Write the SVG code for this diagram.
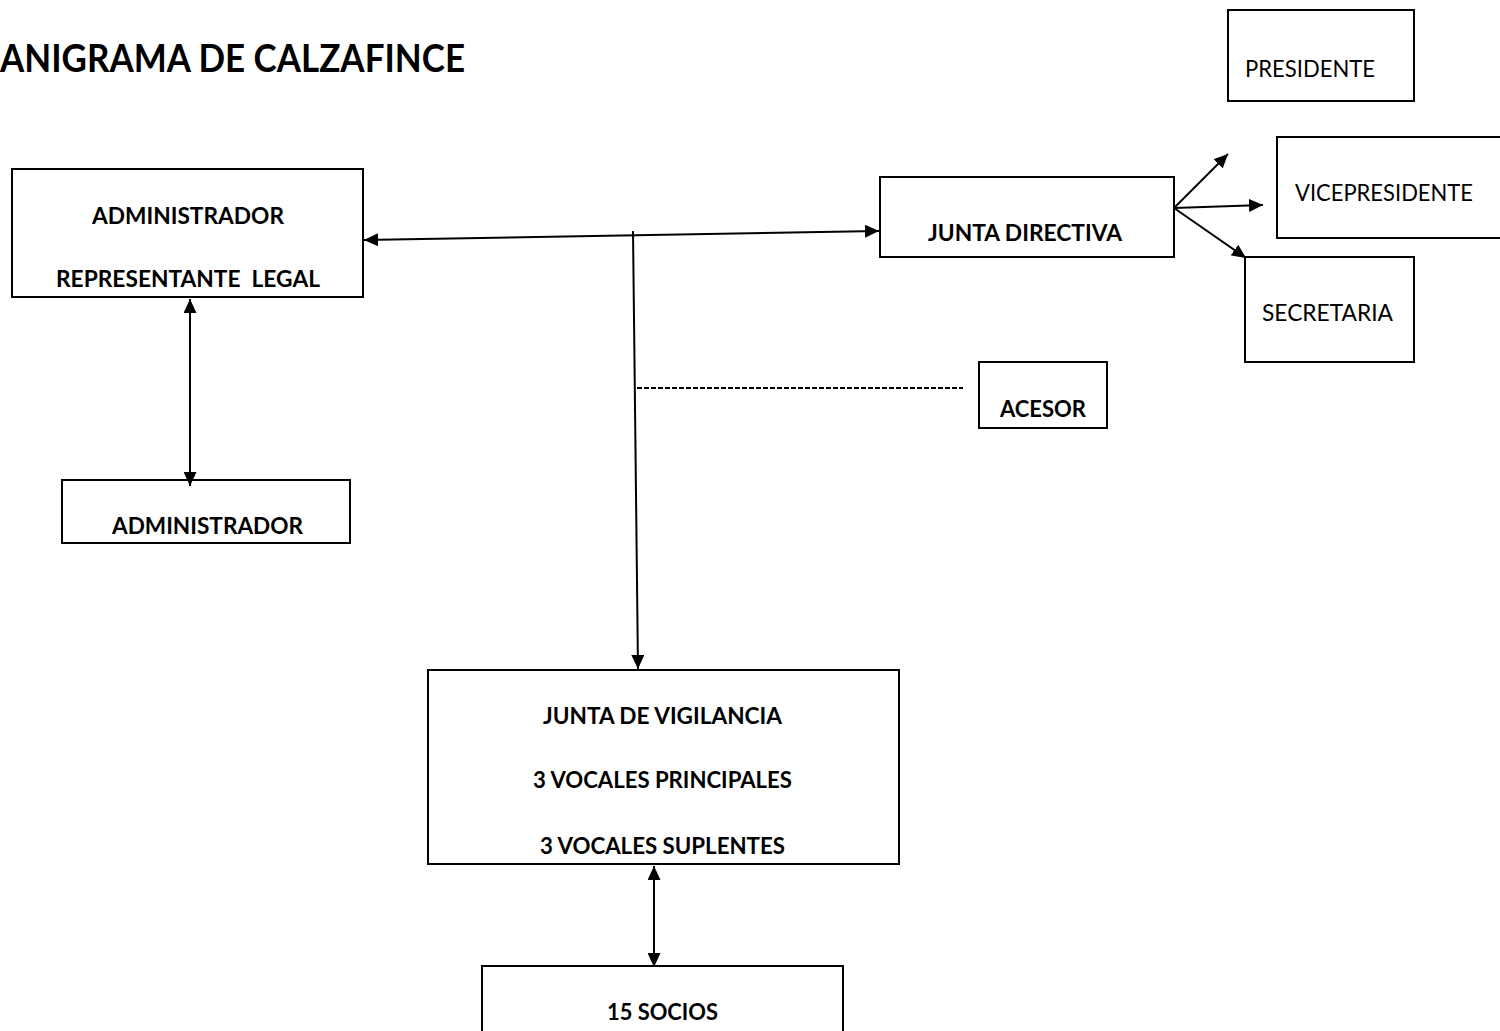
<svg xmlns="http://www.w3.org/2000/svg" width="1500" height="1031" viewBox="0 0 1500 1031">
<defs>
<marker id="ah" viewBox="0 0 12 12" refX="12" refY="6" markerWidth="14" markerHeight="13" markerUnits="userSpaceOnUse" orient="auto-start-reverse" preserveAspectRatio="none"><path d="M0,0 L12,6 L0,12 z" fill="#000"/></marker>
<style>
.box{fill:#fff;stroke:#000;stroke-width:2}
.t{font-family:Lato,"Liberation Sans",sans-serif;font-size:23px;fill:#000;white-space:pre}
.b{font-weight:bold}
.c{stroke:#000;stroke-width:2;fill:none}
</style>
</defs>
<rect width="1500" height="1031" fill="#fff"/>
<text class="t b" x="0" y="72" style="font-size:38px" textLength="465" lengthAdjust="spacingAndGlyphs">ANIGRAMA DE CALZAFINCE</text>
<g id="presidente"><rect class="box" x="1228" y="10" width="186" height="91"/><text class="t" x="1245" y="77" textLength="130" lengthAdjust="spacingAndGlyphs">PRESIDENTE</text></g>
<g id="vicepresidente"><rect class="box" x="1277" y="137" width="226" height="101"/><text class="t" x="1295" y="201" textLength="178" lengthAdjust="spacingAndGlyphs">VICEPRESIDENTE</text></g>
<g id="secretaria"><rect class="box" x="1245" y="257" width="169" height="105"/><text class="t" x="1262" y="321" textLength="131" lengthAdjust="spacingAndGlyphs">SECRETARIA</text></g>
<g id="junta-directiva"><rect class="box" x="880" y="177" width="294" height="80"/><text class="t b" x="928" y="241" textLength="194" lengthAdjust="spacingAndGlyphs">JUNTA DIRECTIVA</text></g>
<g id="administrador-rep"><rect class="box" x="12" y="169" width="351" height="128"/><text class="t b" x="92" y="224" textLength="192" lengthAdjust="spacingAndGlyphs">ADMINISTRADOR</text><text class="t b" x="56" y="287" textLength="264" lengthAdjust="spacingAndGlyphs">REPRESENTANTE  LEGAL</text></g>
<g id="administrador"><rect class="box" x="62" y="480" width="288" height="63"/><text class="t b" x="112" y="534" textLength="191" lengthAdjust="spacingAndGlyphs">ADMINISTRADOR</text></g>
<g id="acesor"><rect class="box" x="979" y="362" width="128" height="66"/><text class="t b" x="1000" y="417" textLength="86" lengthAdjust="spacingAndGlyphs">ACESOR</text></g>
<g id="junta-vigilancia"><rect class="box" x="428" y="670" width="471" height="194"/><text class="t b" x="543" y="724" textLength="239" lengthAdjust="spacingAndGlyphs">JUNTA DE VIGILANCIA</text><text class="t b" x="533" y="788" textLength="259" lengthAdjust="spacingAndGlyphs">3 VOCALES PRINCIPALES</text><text class="t b" x="540" y="854" textLength="245" lengthAdjust="spacingAndGlyphs">3 VOCALES SUPLENTES</text></g>
<g id="socios"><rect class="box" x="482" y="966" width="361" height="80"/><text class="t b" x="607" y="1020" textLength="111" lengthAdjust="spacingAndGlyphs">15 SOCIOS</text></g>
<g id="connectors">
<line class="c" x1="364" y1="240" x2="879" y2="231" marker-start="url(#ah)" marker-end="url(#ah)"/>
<line class="c" x1="633" y1="231" x2="638" y2="669" marker-end="url(#ah)"/>
<line x1="637" y1="388" x2="963" y2="388" stroke="#000" stroke-width="2" stroke-dasharray="5,2"/>
<line class="c" x1="190" y1="299" x2="190" y2="486" marker-start="url(#ah)" marker-end="url(#ah)"/>
<line class="c" x1="654" y1="866" x2="654" y2="967" marker-start="url(#ah)" marker-end="url(#ah)"/>
<line class="c" x1="1174" y1="208" x2="1228" y2="154" marker-end="url(#ah)"/>
<line class="c" x1="1174" y1="208" x2="1263" y2="205" marker-end="url(#ah)"/>
<line class="c" x1="1174" y1="208" x2="1246" y2="258" marker-end="url(#ah)"/>
</g>
</svg>
